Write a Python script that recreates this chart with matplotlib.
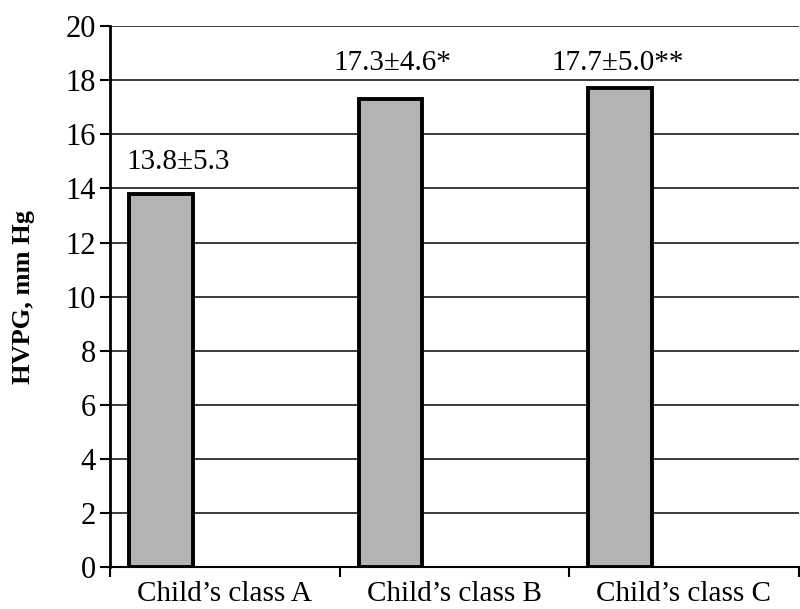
import matplotlib.pyplot as plt

# data
categories = ["Child\u2019s class A", "Child\u2019s class B", "Child\u2019s class C"]
hvpg = [13.8, 17.3, 17.7]
labels = ["13.8\u00b15.3", "17.3\u00b14.6*", "17.7\u00b15.0**"]

plt.rcParams['font.family'] = ['Liberation Serif', 'DejaVu Serif']

fig = plt.figure(figsize=(8, 6.09), dpi=100)
ax = fig.add_axes([0.1375, 0.069, 0.861, 0.888])

width = 0.278
pos = [i - width for i in range(len(hvpg))]
ax.bar(pos, hvpg, width=width, color='#b3b3b3', edgecolor='black',
       linewidth=2.8, zorder=3)

# value labels (placed as in the original)
lab_dx = [0.075, 0.01, -0.01]
lab_y = [14.5, 18.15, 18.15]
for p, dx, y, t in zip(pos, lab_dx, lab_y, labels):
    ax.text(p + dx, y, t, ha='center', va='bottom', fontsize=21)

ax.set_ylim(0, 20)
ax.set_xlim(-0.5, 2.5)
ax.set_yticks(range(0, 21, 2))
ax.yaxis.grid(True, color='#1a1a1a', linewidth=1.2, zorder=0)
ax.set_axisbelow(True)

ax.set_xticks(range(len(categories)))
ax.set_xticklabels(categories, fontsize=21)
ax.set_xticks([-0.5, 0.5, 1.5, 2.5], minor=True)
ax.tick_params(axis='x', which='major', length=0, pad=10)
ax.tick_params(axis='x', which='minor', length=7, width=1.5, direction='out')
ax.tick_params(axis='y', labelsize=22, length=7, width=1.5, direction='out', pad=3)

for s in ['top', 'right']:
    ax.spines[s].set_visible(False)
ax.spines['left'].set_linewidth(2)
ax.spines['bottom'].set_linewidth(1.5)

ax.set_ylabel("HVPG, mm Hg", fontsize=19, fontweight='bold', labelpad=22)

fig.savefig("out.png", dpi=100)
